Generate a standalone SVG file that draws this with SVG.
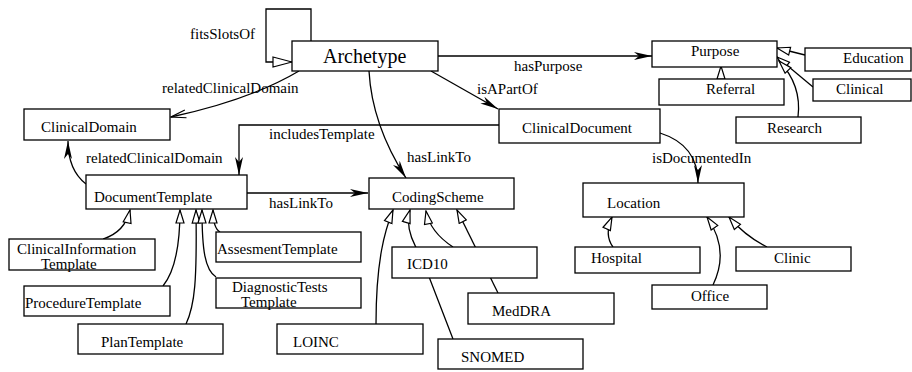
<svg xmlns="http://www.w3.org/2000/svg" width="912" height="372" viewBox="0 0 912 372">
<style>
.box{fill:#fff;stroke:#000;stroke-width:1.3}
.t{font-family:"Liberation Serif","Times New Roman",serif;font-size:15px;fill:#000}
.c{fill:none;stroke:#000;stroke-width:1.3}
.f{marker-end:url(#fill)}
.g{marker-end:url(#gen)}
</style>
<defs>
<marker id="fill" viewBox="0 0 18 8" refX="18" refY="4" markerWidth="18" markerHeight="8" markerUnits="userSpaceOnUse" orient="auto"><path d="M0,0 L18,4 L0,8 L5,4 z" fill="#000"/></marker>
<marker id="gen" viewBox="-1 -1 15 10" refX="13" refY="4" markerWidth="15" markerHeight="10" markerUnits="userSpaceOnUse" orient="auto"><path d="M0,0 L13,4 L0,8 z" fill="#fff" stroke="#000" stroke-width="1.2"/></marker>
<marker id="big" viewBox="-1 -1 21 12" refX="19" refY="5" markerWidth="21" markerHeight="12" markerUnits="userSpaceOnUse" orient="auto"><path d="M0,0 L19,5 L0,10 z" fill="#fff" stroke="#000" stroke-width="1.2"/></marker>
<marker id="open" viewBox="-1 -1 17 10" refX="15" refY="4" markerWidth="17" markerHeight="10" markerUnits="userSpaceOnUse" orient="auto"><path d="M0,0 L15,4 L0,8" fill="none" stroke="#000" stroke-width="1.2"/></marker>
</defs>
<g id="connectors">
<path class="c" d="M311,41 V9 H266 V62 H292" marker-end="url(#big)"/>
<path class="c f" d="M438,56 H652"/>
<path class="c" d="M299,71 Q250,100 171,117" marker-end="url(#open)"/>
<path class="c f" d="M431,71 L498,109"/>
<path class="c f" d="M369,71 Q372,125 406,178"/>
<path class="c f" d="M499,125 H239 V175"/>
<path class="c f" d="M86,184 Q68,170 68,141"/>
<path class="c f" d="M247,193 H368"/>
<path class="c f" d="M660,133 Q698,145 698,183"/>
<path class="c g" d="M805,55 L777,48"/>
<path class="c g" d="M813,87 L777,57"/>
<path class="c g" d="M798,117 Q802,85 779,61"/>
<path class="c g" d="M721,79 V66"/>
<path class="c g" d="M103,239 Q125,232 130,210"/>
<path class="c g" d="M163,286 Q180,265 180,210"/>
<path class="c g" d="M186,324 C195,305 197,280 196,210"/>
<path class="c g" d="M216,277 C205,270 202,250 202,210"/>
<path class="c g" d="M220,232 Q213,228 213,210"/>
<path class="c g" d="M376,324 C376,260 385,230 393,210"/>
<path class="c g" d="M453,339 L421,256 Q404,230 410,210"/>
<path class="c g" d="M453,247 Q430,232 426,211"/>
<path class="c g" d="M498,293 L457,210"/>
<path class="c g" d="M613,247 Q604,235 612,217"/>
<path class="c g" d="M713,285 Q730,250 707,217"/>
<path class="c g" d="M767,247 Q745,236 729,217"/>
<text class="t" x="190" y="39">fitsSlotsOf</text>
<text class="t" x="162" y="93">relatedClinicalDomain</text>
<text class="t" x="514" y="71">hasPurpose</text>
<text class="t" x="477" y="94">isAPartOf</text>
<text class="t" x="269" y="139">includesTemplate</text>
<text class="t" x="86" y="163">relatedClinicalDomain</text>
<text class="t" x="407" y="162">hasLinkTo</text>
<text class="t" x="269" y="208">hasLinkTo</text>
<text class="t" x="652" y="163">isDocumentedIn</text>
</g>
<g id="Archetype"><rect class="box" x="292" y="41" width="146" height="30"/><text class="t" x="323" y="63" style="font-size:20px">Archetype</text></g>
<g id="Purpose"><rect class="box" x="652" y="41" width="125" height="26"/><text class="t" x="691" y="56">Purpose</text></g>
<g id="Education"><rect class="box" x="805" y="48" width="106" height="23"/><text class="t" x="843" y="63">Education</text></g>
<g id="Clinical"><rect class="box" x="813" y="79" width="98" height="22"/><text class="t" x="836" y="94">Clinical</text></g>
<g id="Referral"><rect class="box" x="659" y="79" width="125" height="26"/><text class="t" x="706" y="94">Referral</text></g>
<g id="Research"><rect class="box" x="736" y="117" width="125" height="26"/><text class="t" x="767" y="133">Research</text></g>
<g id="ClinicalDocument"><rect class="box" x="499" y="109" width="161" height="34"/><text class="t" x="522" y="133">ClinicalDocument</text></g>
<g id="ClinicalDomain"><rect class="box" x="24" y="109" width="146" height="31"/><text class="t" x="41" y="132">ClinicalDomain</text></g>
<g id="DocumentTemplate"><rect class="box" x="86" y="175" width="161" height="34"/><text class="t" x="94" y="202">DocumentTemplate</text></g>
<g id="CodingScheme"><rect class="box" x="369" y="178" width="145" height="31"/><text class="t" x="392" y="202">CodingScheme</text></g>
<g id="Location"><rect class="box" x="583" y="183" width="161" height="34"/><text class="t" x="607" y="208">Location</text></g>
<g id="ClinicalInformationTemplate"><rect class="box" x="9" y="239" width="146" height="31"/><text class="t" x="17" y="254">ClinicalInformation</text><text class="t" x="41" y="269">Template</text></g>
<g id="ProcedureTemplate"><rect class="box" x="24" y="286" width="146" height="30"/><text class="t" x="25" y="308">ProcedureTemplate</text></g>
<g id="PlanTemplate"><rect class="box" x="78" y="324" width="145" height="30"/><text class="t" x="101" y="347">PlanTemplate</text></g>
<g id="AssesmentTemplate"><rect class="box" x="216" y="232" width="145" height="30"/><text class="t" x="217" y="254">AssesmentTemplate</text></g>
<g id="DiagnosticTestsTemplate"><rect class="box" x="216" y="278" width="145" height="30"/><text class="t" x="232" y="292">DiagnosticTests</text><text class="t" x="241" y="307">Template</text></g>
<g id="LOINC"><rect class="box" x="277" y="324" width="146" height="30"/><text class="t" x="293" y="347">LOINC</text></g>
<g id="ICD10"><rect class="box" x="392" y="247" width="145" height="31"/><text class="t" x="407" y="269">ICD10</text></g>
<g id="MedDRA"><rect class="box" x="468" y="293" width="146" height="31"/><text class="t" x="492" y="316">MedDRA</text></g>
<g id="SNOMED"><rect class="box" x="438" y="339" width="145" height="30"/><text class="t" x="461" y="362">SNOMED</text></g>
<g id="Hospital"><rect class="box" x="575" y="247" width="125" height="26"/><text class="t" x="591" y="263">Hospital</text></g>
<g id="Office"><rect class="box" x="652" y="285" width="115" height="24"/><text class="t" x="691" y="301">Office</text></g>
<g id="Clinic"><rect class="box" x="736" y="247" width="115" height="24"/><text class="t" x="774" y="263">Clinic</text></g>
</svg>
